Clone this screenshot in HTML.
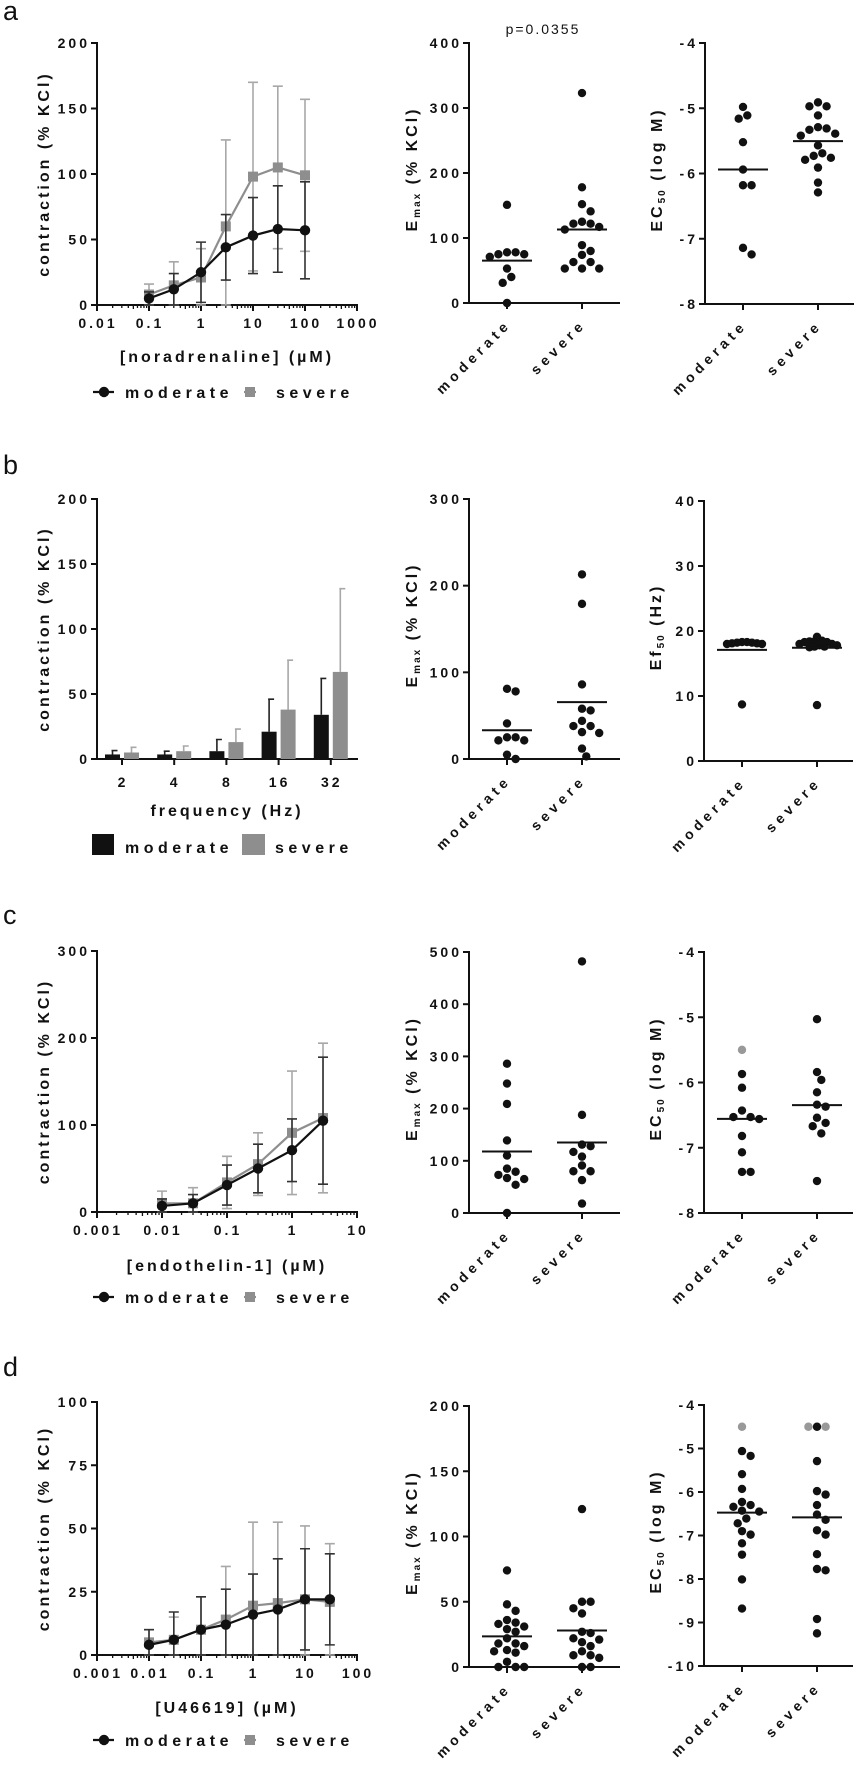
<!DOCTYPE html>
<html><head><meta charset="utf-8"><title>Contraction responses figure</title>
<style>
html,body{margin:0;padding:0;background:#fff;}
svg{display:block;font-family:"Liberation Sans",Arial,sans-serif;}
.tk{font-size:14px;font-weight:bold;letter-spacing:3px;fill:#111;}
.ttl{font-size:16px;font-weight:bold;letter-spacing:3px;fill:#111;}
.lg{font-size:16px;font-weight:bold;letter-spacing:4.5px;fill:#111;}
.cat{font-size:14px;font-weight:bold;letter-spacing:4.5px;fill:#111;}
.pl{font-size:27px;fill:#111;}
</style></head>
<body>
<svg id="fig" width="857" height="1768" viewBox="0 0 857 1768"></svg>
<script>
// ---------- Panel a ----------
const aDoses = [0.1, 0.3, 1, 3, 10, 30, 100];
const aModMean = [5, 12, 25, 44, 53, 58, 57];
const aModSD = [5, 12, 23, 25, 29, 33, 37];
const aSevMean = [8, 15, 21, 60, 98, 105, 99];
const aSevSD = [8, 18, 22, 66, 72, 62, 58];
const aEmaxMod = [151, 78, 75, 71, 75, 78, 53, 40, 31, 0];
const aEmaxSev = [323, 178, 152, 141, 125, 122, 113, 117, 122, 89, 80, 74, 63, 63, 53, 53, 53];
const aEc50Mod = [-4.98, -5.16, -5.11, -5.52, -5.94, -6.18, -6.18, -7.24, -7.14];
const aEc50Sev = [-4.97, -4.91, -4.97, -5.11, -5.29, -5.33, -5.31, -5.39, -5.42, -5.57, -5.69, -5.73, -5.76, -5.79, -5.91, -6.14, -6.29];
// ---------- Panel b ----------
const bFreq = ["2", "4", "8", "16", "32"];
const bModMean = [3.5, 3.5, 6, 21, 34];
const bModSD = [3, 2.5, 9, 25, 28];
const bSevMean = [5, 6, 13, 38, 67];
const bSevSD = [4, 4, 10, 38, 64];
const bEmaxMod = [81, 78, 41, 25, 21.5, 21.5, 25, 5, 0];
const bEmaxSev = [213, 179, 86, 58, 56, 44, 38, 38, 31, 30, 12, 3];
const bEf50Mod = [18.3, 18.2, 18.1, 18.0, 18.0, 18.1, 18.2, 18.3, 8.7];
const bEf50Sev = [18.4, 18.4, 18.3, 18.0, 17.8, 17.6, 17.5, 17.6, 17.8, 18.0, 18.3, 18.5, 19.1, 8.6];
// ---------- Panel c ----------
const cDoses = [0.01, 0.03, 0.1, 0.3, 1, 3];
const cModMean = [7, 10, 31, 50, 71, 105];
const cModSD = [8, 10, 23, 28, 36, 73];
const cSevMean = [10, 10, 34, 55, 91, 108];
const cSevSD = [14, 18, 30, 36, 71, 86];
const cEmaxMod = [286, 248, 209, 139, 110, 85, 79, 73, 67, 65, 54, 0];
const cEmaxSev = [482, 188, 131, 128, 117, 108, 91, 80, 80, 63, 18];
const cEc50Mod = [-5.87, -6.08, -6.43, -6.53, -6.56, -6.53, -6.82, -7.07, -7.37, -7.37];
const cEc50ModExcl = [-5.5];
const cEc50Sev = [-5.03, -5.84, -5.96, -6.15, -6.34, -6.37, -6.54, -6.67, -6.62, -6.78, -7.51];
// ---------- Panel d ----------
const dDoses = [0.01, 0.03, 0.1, 0.3, 1, 3, 10, 30];
const dModMean = [4, 6, 10, 12, 16, 18, 22, 22];
const dModSD = [6, 11, 13, 14, 16, 20, 20, 18];
const dSevMean = [5, 6, 10, 14, 19.5, 20.5, 22, 21];
const dSevSD = [5, 9, 13, 21, 33, 32, 29, 23];
const dEmaxMod = [74, 48, 43, 36, 34, 33, 31, 29, 27, 22, 18, 18, 16, 13, 12, 11, 4, 0, 0, 0];
const dEmaxSev = [121, 50, 50, 45, 41, 27, 26, 22, 19, 21, 16, 12, 9, 9, 7, 0, 0];
const dEc50Mod = [-5.06, -5.17, -5.59, -5.93, -6.23, -6.30, -6.34, -6.45, -6.43, -6.61, -6.72, -6.90, -6.98, -7.18, -7.44, -8.01, -8.68];
const dEc50ModExcl = [-4.5];
const dEc50Sev = [-4.5, -5.29, -5.98, -6.06, -6.30, -6.52, -6.64, -6.88, -6.98, -7.43, -7.80, -7.77, -8.92, -9.25];
const dEc50SevExcl = [-4.5, -4.5];

const NS = "http://www.w3.org/2000/svg";
const svg = document.getElementById("fig");
function el(tag, attrs, parent) {
  const e = document.createElementNS(NS, tag);
  for (const k in attrs) e.setAttribute(k, attrs[k]);
  (parent || svg).appendChild(e);
  return e;
}
function grp(parent) { return el("g", {}, parent); }
const BLK = "#111", GRY = "#8e8e8e", GRYL = "#a8a8a8";

function panelLabel(t, y) {
  const e = el("text", {x: 3, y: y, class: "pl"});
  e.textContent = t;
  
  
}

function yAxis(g, ax, top, bot, min, max, ticks) {
  const sy = v => bot - (v - min) / (max - min) * (bot - top);
  const l = el("line", {x1: ax, x2: ax, y1: top - 1, y2: bot + 1, stroke: BLK, "stroke-width": 2}, g);
  
  
  ticks.forEach(t => {
    el("line", {x1: ax - 6, x2: ax, y1: sy(t), y2: sy(t), stroke: BLK, "stroke-width": 2}, g);
    const tx = el("text", {x: ax - 7, y: sy(t) + 5, class: "tk", "text-anchor": "end"}, g);
    tx.textContent = String(t);
    
    
  });
  return sy;
}

function yTitle(g, x, yc, parts) {
  const t = el("text", {x: 0, y: 0, class: "ttl", "text-anchor": "middle", transform: `translate(${x},${yc}) rotate(-90)`}, g);
  parts.forEach(p => {
    const s = el("tspan", p.sub ? {"font-size": 10, dy: 3, "letter-spacing": 2} : {dy: p.reset ? -3 : 0}, t);
    s.textContent = p.t;
  });
  
  
}

function logChart(cfg) {
  const g = grp();
  
  
  const x0 = 97, x1 = 357;
  const sx = v => x0 + (Math.log10(v) - cfg.lmin) / (cfg.lmax - cfg.lmin) * (x1 - x0);
  const sy = yAxis(g, x0, cfg.top, cfg.bot, 0, cfg.ymax, cfg.yticks);
  el("line", {x1: x0 - 1, x2: x1 + 1, y1: cfg.bot, y2: cfg.bot, stroke: BLK, "stroke-width": 2}, g);
  for (let d = cfg.lmin; d <= cfg.lmax; d++) {
    const X = sx(Math.pow(10, d));
    el("line", {x1: X, x2: X, y1: cfg.bot, y2: cfg.bot + 6, stroke: BLK, "stroke-width": 2}, g);
    const lab = el("text", {x: X + 1, y: cfg.bot + 23, class: "tk", "text-anchor": "middle", "letter-spacing": 2.5}, g);
    lab.textContent = cfg.xlabels[d - cfg.lmin];
    
    
    if (d < cfg.lmax) for (let m = 2; m <= 9; m++) {
      const Xm = sx(m * Math.pow(10, d));
      el("line", {x1: Xm, x2: Xm, y1: cfg.bot, y2: cfg.bot + (m === 5 ? 4 : 3), stroke: BLK, "stroke-width": 1.3}, g);
    }
  }
  const series = [
    {mean: cfg.sev, sd: cfg.sevSD, col: GRY, ecol: GRYL, sq: true, n: "severe"},
    {mean: cfg.mod, sd: cfg.modSD, col: BLK, ecol: "#333", sq: false, n: "moderate"}
  ];
  series.forEach(s => {
    const sg = grp(g);
    
    
    cfg.doses.forEach((d, i) => {
      const X = sx(d), hi = sy(s.mean[i] + s.sd[i]), lo = sy(Math.max(0, s.mean[i] - s.sd[i]));
      const eb = el("path", {d: `M${X},${hi}V${lo}M${X - 5},${hi}H${X + 5}M${X - 5},${lo}H${X + 5}`, stroke: s.ecol, "stroke-width": 1.6, fill: "none"}, sg);
      
      
    });
    const pts = cfg.doses.map((d, i) => `${sx(d)},${sy(s.mean[i])}`).join(" ");
    const pl = el("polyline", {points: pts, fill: "none", stroke: s.col, "stroke-width": 2.2}, sg);
    
    
    cfg.doses.forEach((d, i) => {
      const X = sx(d), Y = sy(s.mean[i]);
      const m = s.sq ? el("rect", {x: X - 5, y: Y - 5, width: 10, height: 10, fill: s.col}, sg)
                     : el("circle", {cx: X, cy: Y, r: 5.2, fill: s.col}, sg);
      
      
    });
  });
  yTitle(g, 49, (cfg.top + cfg.bot) / 2, [{t: "contraction (% KCl)"}]);
  const xt = el("text", {x: 227, y: cfg.xtY, class: "ttl", "text-anchor": "middle"}, g);
  xt.textContent = cfg.xtitle;
  
  
  lineLegend(cfg.legY);
}

function lineLegend(y) {
  const g = grp();
  
  
  const a = grp(g);
  
  
  el("line", {x1: 93, x2: 114, y1: y - 6, y2: y - 6, stroke: BLK, "stroke-width": 2.2}, a);
  el("circle", {cx: 104, cy: y - 6, r: 5.2, fill: BLK}, a);
  const t1 = el("text", {x: 125, y: y, class: "lg"}, a); t1.textContent = "moderate";
  const b = grp(g);
  
  
  el("line", {x1: 244, x2: 256, y1: y - 6, y2: y - 6, stroke: GRY, "stroke-width": 2.2}, b);
  el("rect", {x: 245, y: y - 11, width: 10, height: 10, fill: GRY}, b);
  const t2 = el("text", {x: 276, y: y, class: "lg"}, b); t2.textContent = "severe";
}

function beeswarm(vals, sy, D) {
  const placed = [];
  const order = vals.map((v, i) => i).sort((a, b) => vals[b] - vals[a]);
  const off = new Array(vals.length).fill(0);
  order.forEach(i => {
    const Y = sy(vals[i]);
    for (let k = 0; k < 40; k++) {
      const o = (k === 0 ? 0 : (k % 2 ? 1 : -1) * Math.ceil(k / 2)) * D * 0.5;
      if (placed.every(p => Math.hypot(p.x - o, p.y - Y) >= D - 0.1)) { off[i] = o; placed.push({x: o, y: Y}); break; }
    }
  });
  return off;
}

function scatter(cfg) {
  const g = grp();
  
  
  const ax = cfg.ax, end = ax + (cfg.wide ? 149 : 151);
  const sy = yAxis(g, ax, cfg.top, cfg.bot, cfg.min, cfg.max, cfg.ticks);
  el("line", {x1: ax - 5, x2: end, y1: cfg.bot, y2: cfg.bot, stroke: BLK, "stroke-width": 2}, g);
  const cats = ["moderate", "severe"];
  cfg.groups.forEach((gr, gi) => {
    const cx = ax + 38 + gi * 75;
    const gg = grp(g);
    
    
    el("line", {x1: cx, x2: cx, y1: cfg.bot, y2: cfg.bot + 6, stroke: BLK, "stroke-width": 2}, gg);
    const all = gr.vals.concat(gr.excl || []);
    const off = beeswarm(all, sy, cfg.D || 8.6);
    all.forEach((v, i) => {
      const c = el("circle", {cx: cx + off[i], cy: sy(v), r: 4.2, fill: i >= gr.vals.length ? "#999" : BLK}, gg);
      
      
    });
    const mean = all.reduce((a, b) => a + b, 0) / all.length;
    const ml = el("line", {x1: cx - 25, x2: cx + 25, y1: sy(mean), y2: sy(mean), stroke: BLK, "stroke-width": 2}, gg);
    
    
    const lab = el("text", {x: 0, y: 0, class: "cat", "text-anchor": "end", transform: `translate(${cx + 5},${cfg.bot + 22}) rotate(-45)`}, gg);
    lab.textContent = cats[gi];
    
    
  });
  yTitle(g, ax - 52 + (cfg.tx || 0), (cfg.top + cfg.bot) / 2 - 4, cfg.title);
}

const EMAX = [{t: "E"}, {t: "max", sub: true}, {t: " (% KCl)", reset: true}];
const EC50 = [{t: "EC"}, {t: "50", sub: true}, {t: " (log M)", reset: true}];
const EF50 = [{t: "Ef"}, {t: "50", sub: true}, {t: " (Hz)", reset: true}];

// Panel a
panelLabel("a", 20);
logChart({name: "a-concentration-response", top: 43, bot: 305, ymax: 200, yticks: [0, 50, 100, 150, 200], lmin: -2, lmax: 3,
  xlabels: ["0.01", "0.1", "1", "10", "100", "1000"], doses: aDoses, mod: aModMean, modSD: aModSD, sev: aSevMean, sevSD: aSevSD,
  xtitle: "[noradrenaline] (µM)", xtY: 362, legY: 398});
scatter({name: "a-emax-scatter", ax: 469, top: 43, bot: 303, min: 0, max: 400, ticks: [0, 100, 200, 300, 400], title: EMAX,
  groups: [{vals: aEmaxMod}, {vals: aEmaxSev}]});
scatter({name: "a-ec50-scatter", ax: 705, top: 43, bot: 304, min: -8, max: -4, ticks: [-8, -7, -6, -5, -4], title: EC50, wide: true, tx: 9,
  groups: [{vals: aEc50Mod}, {vals: aEc50Sev}]});
const pv = el("text", {x: 543, y: 34, "font-size": 14, "letter-spacing": 2, "text-anchor": "middle", fill: "#111"});
pv.textContent = "p=0.0355";



// Panel b
panelLabel("b", 474);
(function () {
  const g = grp();
  
  
  const x0 = 97, x1 = 358, top = 499, bot = 759;
  const sy = yAxis(g, x0, top, bot, 0, 200, [0, 50, 100, 150, 200]);
  el("line", {x1: x0 - 1, x2: x1, y1: bot, y2: bot, stroke: BLK, "stroke-width": 2}, g);
  const sx = i => 122 + i * 52.2;
  bFreq.forEach((f, i) => {
    const cx = sx(i);
    el("line", {x1: cx, x2: cx, y1: bot, y2: bot + 6, stroke: BLK, "stroke-width": 2}, g);
    const t = el("text", {x: cx + 1, y: bot + 28, class: "tk", "text-anchor": "middle"}, g);
    t.textContent = f;
    
    
    [[bModMean, bModSD, BLK, "#222", -9.5, "moderate"], [bSevMean, bSevSD, GRY, GRYL, 9.5, "severe"]].forEach(s => {
      const bx = cx + s[4], v = s[0][i], sd = s[1][i];
      const eb = el("path", {d: `M${bx},${sy(v)}V${sy(v + sd)}M${bx - 1},${sy(v + sd)}H${bx + 5}`, stroke: s[3], "stroke-width": 1.6, fill: "none"}, g);
      
      
      const r = el("rect", {x: bx - 7.5, y: sy(v), width: 15, height: bot - sy(v), fill: s[2]}, g);
      
      
    });
  });
  yTitle(g, 49, (top + bot) / 2, [{t: "contraction (% KCl)"}]);
  const xt = el("text", {x: 227, y: 816, class: "ttl", "text-anchor": "middle"}, g);
  xt.textContent = "frequency (Hz)";
  
  
  const lg = grp();
  
  
  const e1 = grp(lg);
  
  
  el("rect", {x: 92, y: 834, width: 22, height: 21, fill: BLK}, e1);
  el("text", {x: 125, y: 853, class: "lg"}, e1).textContent = "moderate";
  const e2 = grp(lg);
  
  
  el("rect", {x: 242, y: 834, width: 23, height: 21, fill: GRY}, e2);
  el("text", {x: 275, y: 853, class: "lg"}, e2).textContent = "severe";
})();
scatter({name: "b-emax-scatter", ax: 469, top: 499, bot: 759, min: 0, max: 300, ticks: [0, 100, 200, 300], title: EMAX,
  groups: [{vals: bEmaxMod}, {vals: bEmaxSev}]});
scatter({name: "b-ef50-scatter", ax: 704, top: 501, bot: 761, min: 0, max: 40, ticks: [0, 10, 20, 30, 40], title: EF50, wide: true, tx: 9, D: 5,
  groups: [{vals: bEf50Mod}, {vals: bEf50Sev}]});

// Panel c
panelLabel("c", 924);
logChart({name: "c-concentration-response", top: 951, bot: 1212, ymax: 300, yticks: [0, 100, 200, 300], lmin: -3, lmax: 1,
  xlabels: ["0.001", "0.01", "0.1", "1", "10"], doses: cDoses, mod: cModMean, modSD: cModSD, sev: cSevMean, sevSD: cSevSD,
  xtitle: "[endothelin-1] (µM)", xtY: 1271, legY: 1303});
scatter({name: "c-emax-scatter", ax: 469, top: 952, bot: 1213, min: 0, max: 500, ticks: [0, 100, 200, 300, 400, 500], title: EMAX,
  groups: [{vals: cEmaxMod}, {vals: cEmaxSev}]});
scatter({name: "c-ec50-scatter", ax: 704, top: 952, bot: 1213, min: -8, max: -4, ticks: [-8, -7, -6, -5, -4], title: EC50, wide: true, tx: 9,
  groups: [{vals: cEc50Mod, excl: cEc50ModExcl}, {vals: cEc50Sev}]});

// Panel d
panelLabel("d", 1376);
logChart({name: "d-concentration-response", top: 1402, bot: 1655, ymax: 100, yticks: [0, 25, 50, 75, 100], lmin: -3, lmax: 2,
  xlabels: ["0.001", "0.01", "0.1", "1", "10", "100"], doses: dDoses, mod: dModMean, modSD: dModSD, sev: dSevMean, sevSD: dSevSD,
  xtitle: "[U46619] (µM)", xtY: 1713, legY: 1746});
scatter({name: "d-emax-scatter", ax: 469, top: 1406, bot: 1667, min: 0, max: 200, ticks: [0, 50, 100, 150, 200], title: EMAX,
  groups: [{vals: dEmaxMod}, {vals: dEmaxSev}]});
scatter({name: "d-ec50-scatter", ax: 704, top: 1405, bot: 1666, min: -10, max: -4, ticks: [-10, -9, -8, -7, -6, -5, -4], title: EC50, wide: true, tx: 9,
  groups: [{vals: dEc50Mod, excl: dEc50ModExcl}, {vals: dEc50Sev, excl: dEc50SevExcl}]});
</script>
</body></html>
